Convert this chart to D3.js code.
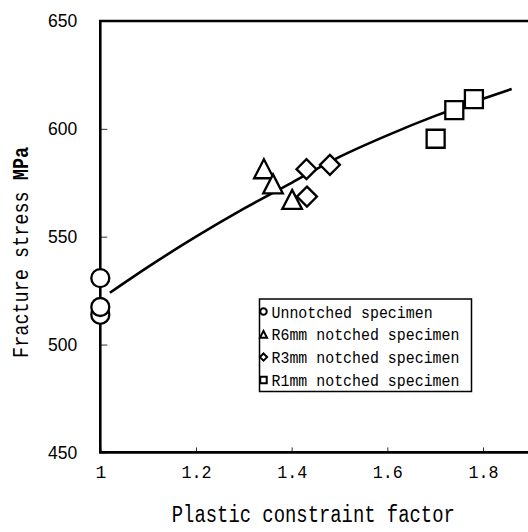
<!DOCTYPE html>
<html>
<head>
<meta charset="utf-8">
<script src="https://cdn.jsdelivr.net/npm/d3@7"></script>
<style>
	body { margin: 0; background: #fff; }
	svg { display: block; }
</style>
</head>
<body>
<div id="chart"></div>
<script>
const width = 528,
			height = 532;

// Axis ticks
const xTicks = [1, 1.2, 1.4, 1.6, 1.8];
const yTicks = [450, 500, 550, 600, 650];

// Measured points, one array per specimen type
const unnotchedX = [1, 1, 1];
const unnotchedY = [530.8, 513.8, 517.4];

const r6X = [1.342, 1.361, 1.401];
const r6Y = [581.5, 574.5, 567.3];

const r3X = [1.431, 1.480, 1.432];
const r3Y = [581.3, 583.3, 568.6];

const r1X = [1.701, 1.740, 1.781];
const r1Y = [595.4, 608.7, 613.8];

// Fitted curve
const fitX = [1.02, 1.1, 1.2, 1.3, 1.4, 1.5, 1.6, 1.7, 1.8, 1.86];
const fitY = [524, 536, 550, 563, 575, 587, 597, 606, 614, 618.5];

const legendLabels = ["Unnotched specimen", "R6mm notched specimen",
										 "R3mm notched specimen", "R1mm notched specimen"];

const series = [
	{ shape: "circle", xs: unnotchedX, ys: unnotchedY },
	{ shape: "triangle", xs: r6X, ys: r6Y },
	{ shape: "diamond", xs: r3X, ys: r3Y },
	{ shape: "square", xs: r1X, ys: r1Y }
];

const x = d3.scaleLinear()
		.domain([1, 1.8])
		.range([100.3, 483]);

const y = d3.scaleLinear()
		.domain([450, 650])
		.range([452.4, 21]);

const mono = "'Liberation Mono', 'DejaVu Sans Mono', monospace";

// marker outline centred on 0,0
function symbolPath(shape, s) {
	const p = d3.path();
	if (shape === "circle") {
		p.arc(0, 0, 9 * s, 0, 2 * Math.PI);
	} else if (shape === "triangle") {
		p.moveTo(0, -9.5 * s);
		p.lineTo(9.8 * s, 9.5 * s);
		p.lineTo(-9.8 * s, 9.5 * s);
		p.closePath();
	} else if (shape === "diamond") {
		p.moveTo(0, -10 * s);
		p.lineTo(10 * s, 0);
		p.lineTo(0, 10 * s);
		p.lineTo(-10 * s, 0);
		p.closePath();
	} else {
		p.rect(-9 * s, -9 * s, 18 * s, 18 * s);
	}
	return p.toString();
}

const svg = d3.select("#chart")
	.append("svg")
		.attr("width", width)
		.attr("height", height)
		.style("background", "#fff");

// Ticks (inward)
const yAxis = svg.append("g")
		.attr("transform", `translate(${x(1)},0)`)
		.call(d3.axisLeft(y)
				.tickValues(yTicks)
				.tickSizeInner(-7)
				.tickSizeOuter(0)
				.tickPadding(23)
				.tickFormat(d3.format("d")));

yAxis.select(".domain").remove();
yAxis.selectAll("line").attr("stroke", "#333").attr("stroke-width", 1);
yAxis.selectAll("text")
		.attr("font-family", "'Liberation Sans', Arial, sans-serif")
		.attr("font-size", 17.5)
		.attr("fill", "#000");

const xAxis = svg.append("g")
		.attr("transform", `translate(0,${y(450)})`)
		.call(d3.axisBottom(x)
				.tickValues(xTicks)
				.tickSizeInner(-5)
				.tickSizeOuter(0)
				.tickPadding(26)
				.tickFormat(d => d === 1 ? "1" : d3.format(".1f")(d)));

xAxis.select(".domain").remove();
xAxis.selectAll("line").attr("stroke", "#333").attr("stroke-width", 1);
xAxis.selectAll("text")
		.attr("font-family", mono)
		.attr("font-size", 18)
		.attr("fill", "#000")
		.attr("dy", 0)
		.each(function(d) {
			if (d !== 1) d3.select(this).attr("textLength", 30).attr("lengthAdjust", "spacingAndGlyphs");
		});

// Frame: left, bottom and top lines
const frame = svg.append("g")
		.attr("stroke", "#000")
		.attr("stroke-width", 2.6)
		.attr("fill", "none");

frame.append("path")
		.attr("d", `M${width + 5},${y(650)}H${x(1)}V${y(450)}H${width + 5}`);

// Fitted curve
svg.append("path")
		.datum(d3.zip(fitX, fitY))
		.attr("fill", "none")
		.attr("stroke", "#000")
		.attr("stroke-width", 2.6)
		.attr("d", d3.line()
				.x(d => x(d[0]))
				.y(d => y(d[1]))
				.curve(d3.curveMonotoneX));

// Markers
svg.append("g")
	.selectAll("g")
	.data(series)
	.enter()
	.append("g")
	.each(function(s) {
		d3.select(this)
			.selectAll("path")
			.data(d3.zip(s.xs, s.ys))
			.enter()
			.append("path")
				.attr("transform", d => `translate(${x(d[0])},${y(d[1])})`)
				.attr("d", symbolPath(s.shape, 1))
				.attr("fill", "#fff")
				.attr("stroke", "#000")
				.attr("stroke-width", 2.3);
	});

// Legend
const legend = svg.append("g")
		.attr("transform", "translate(259.5,299)");

legend.append("rect")
		.attr("width", 212)
		.attr("height", 92.5)
		.attr("fill", "#fff")
		.attr("stroke", "#000")
		.attr("stroke-width", 1.5);

const legendItem = legend.selectAll(".item")
	.data(series)
	.enter()
	.append("g")
		.attr("class", "item")
		.attr("transform", (d, i) => `translate(4,${12.5 + i * 22.8})`);

legendItem.append("path")
		.attr("d", d => symbolPath(d.shape, 0.36))
		.attr("fill", "none")
		.attr("stroke", "#000")
		.attr("stroke-width", 2);

legendItem.append("text")
		.attr("x", 8)
		.attr("dy", "0.36em")
		.attr("font-family", mono)
		.attr("font-size", 17)
		.attr("textLength", (d, i) => legendLabels[i].length * 8.95)
		.attr("lengthAdjust", "spacingAndGlyphs")
		.text((d, i) => legendLabels[i]);

// Axis titles
svg.append("text")
		.attr("x", 313.3)
		.attr("y", 521.5)
		.attr("text-anchor", "middle")
		.attr("font-family", mono)
		.attr("font-size", 23)
		.attr("textLength", 283)
		.attr("lengthAdjust", "spacingAndGlyphs")
		.text("Plastic constraint factor");

const yTitle = svg.append("text")
		.attr("transform", "translate(28,252.4) rotate(-90)")
		.attr("text-anchor", "middle")
		.attr("font-family", mono)
		.attr("font-size", 22.5)
		.attr("textLength", 211)
		.attr("lengthAdjust", "spacingAndGlyphs");

yTitle.append("tspan").text("Fracture stress ");
yTitle.append("tspan").attr("font-weight", "bold").text("MPa");
</script>
</body>
</html>
